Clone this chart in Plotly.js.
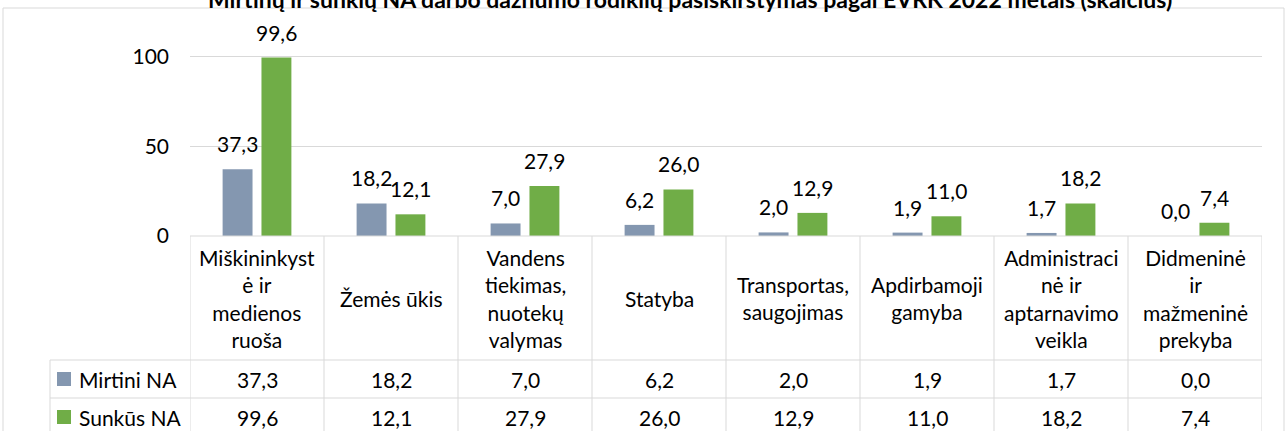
<!DOCTYPE html>
<html>
<head>
<meta charset="utf-8">
<script src="https://cdn.plot.ly/plotly-3.0.1.min.js"></script>
<style>html,body{margin:0;padding:0;background:#fff;}#chart{width:1288px;height:431px;}</style>
</head>
<body>
<div id="chart"></div>
<script>
// ---- data ----
const categories = [
  "Miškininkyst<br>ė ir<br>medienos<br>ruoša",
  "Žemės ūkis",
  "Vandens<br>tiekimas,<br>nuotekų<br>valymas",
  "Statyba",
  "Transportas,<br>saugojimas",
  "Apdirbamoji<br>gamyba",
  "Administraci<br>nė ir<br>aptarnavimo<br>veikla",
  "Didmeninė<br>ir<br>mažmeninė<br>prekyba"
];
const seriesNames = ["Mirtini NA", "Sunkūs NA"];
const mirtini = [37.3, 18.2, 7.0, 6.2, 2.0, 1.9, 1.7, 0.0];
const sunkus  = [99.6, 12.1, 27.9, 26.0, 12.9, 11.0, 18.2, 7.4];
const yTicks = [0, 50, 100];
const titleText = "Mirtinų ir sunkių NA darbo dažnumo rodiklių pasiskirstymas pagal EVRK 2022 metais (skaičius)";

// ---- style ----
const colors = ["#8497B0", "#70AD47"];
const FONT = "Lato, 'Open Sans', sans-serif";
const FS = 21;
const gridC = "#D9D9D9";
const W = 1288, H = 431;
const M = {l: 190, r: 26, t: 21, b: 195};
const plotH = H - M.t - M.b, plotW = W - M.l - M.r;
const py = v => (H - M.b - v) / plotH;   // pixel y -> paper y
const px = v => (v - M.l) / plotW;        // pixel x -> paper x
const fmt = v => v.toFixed(1).replace(".", ",");

const bargap = 0.42, bargroupgap = 0.23;
const off = (1 - bargap) / 4;

const idx = categories.map((_, i) => i);
const traces = [mirtini, sunkus].map((vals, k) => ({
  type: "bar", x: idx, y: vals, name: seriesNames[k],
  marker: {color: colors[k]}, hoverinfo: "skip", showlegend: false
}));

const ann = [];
const shapes = [];
// data labels
[mirtini, sunkus].forEach((vals, k) => {
  vals.forEach((v, i) => {
    ann.push({x: i + (k === 0 ? -off : off), y: v, xref: "x", yref: "y",
      text: fmt(v), showarrow: false, yanchor: "bottom", yshift: 11,
      font: {family: FONT, size: FS, color: "#000"}});
  });
});
// title (cut at top, as in the original)
ann.push({x: px(690), y: py(-1), xref: "paper", yref: "paper", xanchor: "center", yanchor: "middle",
  text: "<b>" + titleText + "</b>", showarrow: false,
  font: {family: FONT, size: 23, color: "#000"}});

// table
const rowTop = 236, row1 = 360, row2 = 398, tableBottom = 440;
const lineStyle = {color: gridC, width: 1};
for (let i = 0; i <= categories.length; i++) {
  shapes.push({type: "line", xref: "x", yref: "paper", x0: i - 0.5, x1: i - 0.5,
    y0: py(rowTop), y1: py(tableBottom), line: lineStyle});
}
shapes.push({type: "line", xref: "paper", yref: "paper", x0: px(50), x1: px(50),
  y0: py(row1), y1: py(tableBottom), line: lineStyle});
shapes.push({type: "line", xref: "paper", yref: "paper", x0: 0, x1: 1,
  y0: py(rowTop), y1: py(rowTop), line: lineStyle});
[row1, row2].forEach(r => shapes.push({type: "line", xref: "paper", yref: "paper",
  x0: px(50), x1: 1, y0: py(r), y1: py(r), line: lineStyle}));
// outer chart border
shapes.push({type: "rect", xref: "paper", yref: "paper", x0: px(3), x1: px(1284),
  y0: py(8), y1: py(460), line: {color: gridC, width: 1}, layer: "below"});

// header labels
categories.forEach((c, i) => ann.push({x: i, y: py((rowTop + row1) / 2), xref: "x", yref: "paper",
  text: c, showarrow: false, yanchor: "middle", align: "center",
  font: {family: FONT, size: FS, color: "#000"}}));
// value rows
[[mirtini, row1, row2], [sunkus, row2, tableBottom - 4]].forEach(([vals, a, b], k) => {
  const yc = (a + b) / 2;
  vals.forEach((v, i) => ann.push({x: i, y: py(yc), xref: "x", yref: "paper",
    text: fmt(v), showarrow: false, yanchor: "middle",
    font: {family: FONT, size: FS, color: "#000"}}));
  shapes.push({type: "rect", xref: "paper", yref: "paper", x0: px(57), x1: px(71),
    y0: py(yc - 7), y1: py(yc + 7), fillcolor: colors[k], line: {width: 0}});
  ann.push({x: px(77), y: py(yc), xref: "paper", yref: "paper", xanchor: "left", yanchor: "middle",
    text: seriesNames[k], showarrow: false, font: {family: FONT, size: FS, color: "#000"}});
});

const layout = {
  width: W, height: H,
  margin: M,
  paper_bgcolor: "#fff", plot_bgcolor: "#fff",
  barmode: "group", bargap: bargap, bargroupgap: bargroupgap,
  showlegend: false,
  xaxis: {type: "linear", range: [-0.5, categories.length - 0.5], showticklabels: false,
    showgrid: false, zeroline: false, showline: false, fixedrange: true},
  yaxis: {range: [0, 120], tickvals: yTicks, ticktext: yTicks.map(String),
    showgrid: true, gridcolor: gridC, gridwidth: 1, zeroline: false, showline: false,
    ticks: "", ticklabelstandoff: 20,
    tickfont: {family: FONT, size: FS, color: "#000"}, fixedrange: true},
  annotations: ann, shapes: shapes
};
Plotly.newPlot("chart", traces, layout, {displayModeBar: false, staticPlot: true});
</script>
</body>
</html>
